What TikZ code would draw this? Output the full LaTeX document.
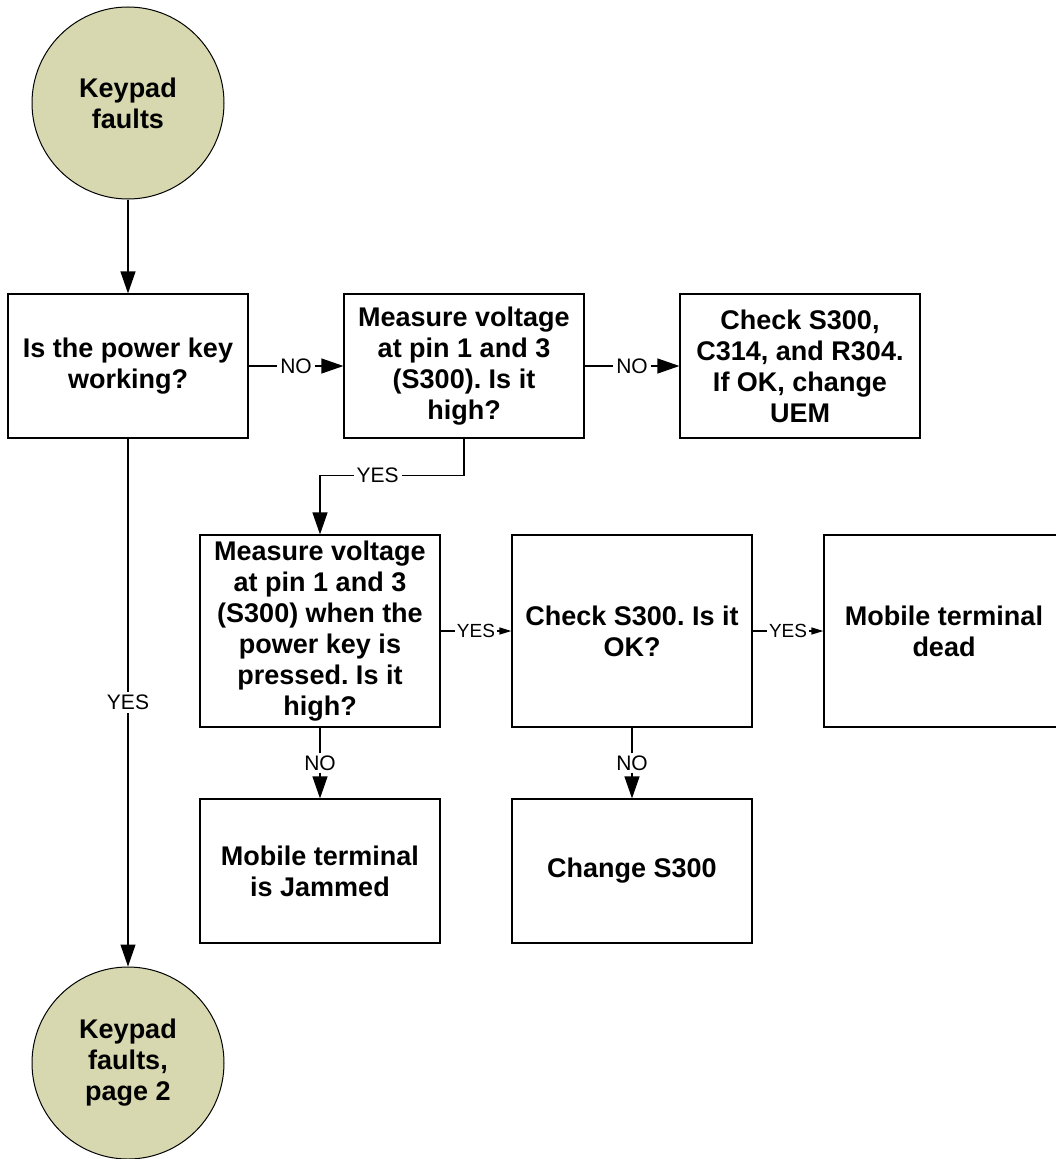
\documentclass[tikz,border=0pt]{standalone}
\usepackage{fontspec}
\setmainfont{Liberation Sans}
\usepackage{tikz}
\usetikzlibrary{arrows.meta}
\frenchspacing
\definecolor{keytan}{RGB}{216,216,176}
\tikzstyle{block} = [draw, line width=1.2pt, fill=white, minimum width=240pt, minimum height=144pt, inner sep=0pt, align=center, font=\fontsize{27}{31}\selectfont\bfseries]
\tikzstyle{tall block} = [block, minimum height=192pt]
\tikzstyle{terminal} = [draw, circle, line width=1pt, fill=keytan, minimum size=192pt, inner sep=0pt, align=center, font=\fontsize{27}{31}\selectfont\bfseries]
\tikzstyle{flow} = [draw, line width=1.2pt, -{Triangle[length=22pt,width=15pt]}]
\tikzstyle{short flow} = [draw, line width=1.2pt, -{Triangle[length=12pt,width=7pt]}]
\tikzstyle{answer} = [fill=white, inner sep=3pt, font=\fontsize{21}{21}\selectfont]
\tikzstyle{small answer} = [answer, inner sep=2pt, font=\fontsize{19}{19}\selectfont]

\begin{document}
\begin{tikzpicture}[x=1pt,y=-1pt]
	\useasboundingbox (0,0) rectangle (1055,1159);
	\node[terminal] (start) at (128,103) {Keypad\\faults};
	\node[block] (power) at (128,366) {Is the power key\\working?};
	\node[block] (high) at (464,366) {Measure voltage\\at pin 1 and 3\\(S300). Is it\\high?};
	\node[block] (check) at (800,366) {Check S300,\\C314, and R304.\\If OK, change\\UEM};
	\node[tall block] (pressed) at (320,631) {Measure voltage\\at pin 1 and 3\\(S300) when the\\power key is\\pressed. Is it\\high?};
	\node[tall block] (switch) at (632,631) {Check S300. Is it\\OK?};
	\node[tall block] (dead) at (944,631) {Mobile terminal\\dead};
	\node[block] (jammed) at (320,871) {Mobile terminal\\is Jammed};
	\node[block] (change) at (632,871) {Change S300};
	\node[terminal] (next) at (128,1063) {Keypad\\faults,\\page 2};

	\draw[flow] (start) -- (power);
	\draw[flow] (power) -- node[answer] {YES} (next);
	\draw[flow] (power) -- node[answer] {NO} (high);
	\draw[flow] (high) -- node[answer] {NO} (check);
	\draw[flow] (high.south) -- ++(0,37) -| node[answer,pos=0.3] {YES} (pressed.north);
	\draw[short flow] (pressed) -- node[small answer] {YES} (switch);
	\draw[short flow] (switch) -- node[small answer] {YES} (dead);
	\draw[flow] (pressed) -- node[answer] {NO} (jammed);
	\draw[flow] (switch) -- node[answer] {NO} (change);
\end{tikzpicture}
\end{document}
